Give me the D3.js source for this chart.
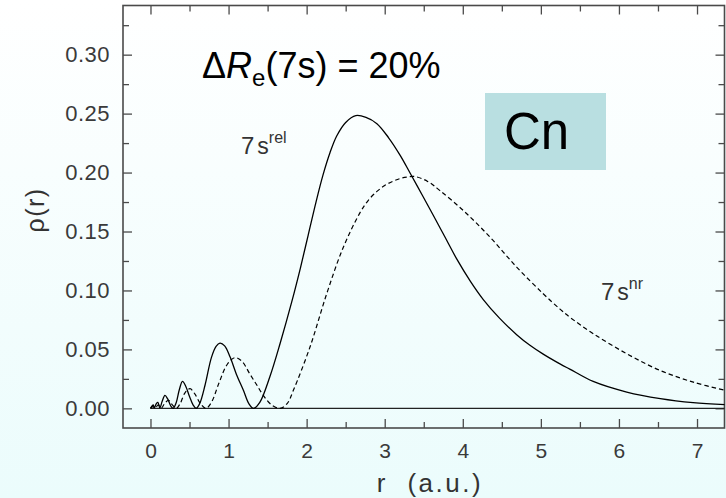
<!DOCTYPE html>
<html>
<head>
<meta charset="utf-8">
<script src="https://cdn.jsdelivr.net/npm/d3@7"></script>
<style>
  html, body { margin: 0; padding: 0; }
  body { width: 726px; height: 498px; overflow: hidden; }
  svg { display: block; }
</style>
</head>
<body>
<svg id="chart" width="726" height="498"></svg>
<script>
// ---- data ----
const relR = [0, 0.02, 0.035, 0.05, 0.075, 0.095, 0.12, 0.15, 0.185, 0.22, 0.26, 0.29, 0.33, 0.37, 0.41, 0.45, 0.5, 0.545, 0.585, 0.63, 0.7, 0.78, 0.84, 0.89, 0.95, 1.02, 1.1, 1.19, 1.26, 1.32, 1.4, 1.53, 1.66, 1.81, 1.92, 2.02, 2.12, 2.21, 2.3, 2.385, 2.5, 2.63, 2.76, 2.9, 3.05, 3.2, 3.33, 3.48, 3.62, 3.77, 3.92, 4.1, 4.26, 4.47, 4.69, 4.86, 5.03, 5.25, 5.37, 5.67, 6.1, 6.53, 6.95, 7.36];
const relRho = [0, 0.002, 0.003, 0.0005, 0.004, 0.005, 0.0005, 0.006, 0.011, 0.008, 0.002, 0, 0.005, 0.016, 0.0229, 0.019, 0.01, 0.003, 0, 0.004, 0.02, 0.043, 0.0525, 0.0553, 0.053, 0.0435, 0.029, 0.0153, 0.004, 0, 0.005, 0.027, 0.055, 0.0905, 0.119, 0.147, 0.175, 0.198, 0.217, 0.231, 0.2425, 0.2483, 0.2468, 0.2415, 0.2295, 0.2144, 0.199, 0.181, 0.164, 0.1455, 0.127, 0.1075, 0.0925, 0.0765, 0.0625, 0.0535, 0.046, 0.0375, 0.0333, 0.0228, 0.0138, 0.0082, 0.0048, 0.0031];

const nrR = [0, 0.03, 0.06, 0.1, 0.14, 0.18, 0.23, 0.28, 0.33, 0.38, 0.44, 0.506, 0.57, 0.64, 0.71, 0.78, 0.88, 0.98, 1.08, 1.17, 1.274, 1.36, 1.445, 1.55, 1.66, 1.75, 1.83, 2.043, 2.257, 2.47, 2.684, 2.79, 2.897, 3.0, 3.1, 3.2, 3.29, 3.388, 3.55, 3.708, 4.007, 4.349, 4.69, 5.03, 5.245, 5.373, 5.672, 6.1, 6.526, 6.953, 7.36];
const nrRho = [0, 0.0015, 0.0002, 0.003, 0.0003, 0.004, 0.0068, 0.003, 0, 0.004, 0.013, 0.0167, 0.012, 0.004, 0, 0.005, 0.022, 0.037, 0.043, 0.04, 0.029, 0.02, 0.011, 0.003, 0, 0.004, 0.0153, 0.052, 0.0972, 0.1367, 0.166, 0.1765, 0.1838, 0.1890, 0.1925, 0.1950, 0.1962, 0.1966, 0.1925, 0.1847, 0.1678, 0.1452, 0.1198, 0.0972, 0.0842, 0.0772, 0.0633, 0.0463, 0.0322, 0.0222, 0.0153];

const xMajorTicks = [0, 1, 2, 3, 4, 5, 6, 7];
const xMinorTicks = [0.5, 1.5, 2.5, 3.5, 4.5, 5.5, 6.5];
const yMajorTicks = [0, 0.05, 0.10, 0.15, 0.20, 0.25, 0.30];
const yMinorTicks = [0.025, 0.075, 0.125, 0.175, 0.225, 0.275, 0.325];
const yTickLabels = ["0.00", "0.05", "0.10", "0.15", "0.20", "0.25", "0.30"];

const titleText = "(7s) = 20%";
const elementLabel = "Cn";
const xTitle = "r  (a.u.)";
const yTitle = "\u03C1(r)";

// ---- layout ----
const W = 726, H = 498;
const plot = { left: 123, top: 5.5, right: 724.5, bottom: 428 };

const svg = d3.select("#chart");

// background gradient
const defs = svg.append("defs");
const grad = defs.append("linearGradient").attr("id", "bg")
  .attr("x1", 0).attr("y1", 0).attr("x2", 0).attr("y2", 1);
grad.append("stop").attr("offset", "0%").attr("stop-color", "#ffffff");
grad.append("stop").attr("offset", "100%").attr("stop-color", "#ebfcfc");
svg.append("rect").attr("width", W).attr("height", H).attr("fill", "url(#bg)");

const x = d3.scaleLinear().domain([-0.352, 7.352]).range([plot.left, plot.right]);
const y = d3.scaleLinear().domain([-1 / 60, 0.3417]).range([plot.bottom, plot.top]);

const axisColor = "#4a4a4a";
const labelFont = "'Liberation Sans', Arial, sans-serif";

function styleAxis(g) {
  g.select(".domain").remove();
  g.selectAll(".tick line").attr("stroke", axisColor).attr("stroke-width", 1.3);
  g.selectAll(".tick text").attr("fill", "#3a3a3a").attr("font-family", labelFont);
}

// left axis (major with labels)
svg.append("g").attr("transform", `translate(${plot.left},0)`)
  .call(d3.axisLeft(y).tickValues(yMajorTicks).tickSize(-9).tickPadding(13)
    .tickFormat((d, i) => yTickLabels[i]))
  .call(styleAxis)
  .call(g => g.selectAll(".tick text").attr("font-size", 22).attr("letter-spacing", 0.5));
svg.append("g").attr("transform", `translate(${plot.left},0)`)
  .call(d3.axisLeft(y).tickValues(yMinorTicks).tickSize(-6).tickFormat(""))
  .call(styleAxis);
// right axis
svg.append("g").attr("transform", `translate(${plot.right},0)`)
  .call(d3.axisRight(y).tickValues(yMajorTicks).tickSize(-9).tickFormat(""))
  .call(styleAxis);
svg.append("g").attr("transform", `translate(${plot.right},0)`)
  .call(d3.axisRight(y).tickValues(yMinorTicks).tickSize(-6).tickFormat(""))
  .call(styleAxis);
// bottom axis
svg.append("g").attr("transform", `translate(0,${plot.bottom})`)
  .call(d3.axisBottom(x).tickValues(xMajorTicks).tickSize(-9).tickPadding(15)
    .tickFormat(d3.format("d")))
  .call(styleAxis)
  .call(g => g.selectAll(".tick text").attr("font-size", 21));
svg.append("g").attr("transform", `translate(0,${plot.bottom})`)
  .call(d3.axisBottom(x).tickValues(xMinorTicks).tickSize(-6).tickFormat(""))
  .call(styleAxis);
// top axis
svg.append("g").attr("transform", `translate(0,${plot.top})`)
  .call(d3.axisTop(x).tickValues(xMajorTicks).tickSize(-9).tickFormat(""))
  .call(styleAxis);
svg.append("g").attr("transform", `translate(0,${plot.top})`)
  .call(d3.axisTop(x).tickValues(xMinorTicks).tickSize(-6).tickFormat(""))
  .call(styleAxis);

// frame
svg.append("rect")
  .attr("x", plot.left).attr("y", plot.top)
  .attr("width", plot.right - plot.left).attr("height", plot.bottom - plot.top)
  .attr("fill", "none").attr("stroke", axisColor).attr("stroke-width", 1.6);

// zero line
svg.append("line")
  .attr("x1", x(0)).attr("x2", plot.right)
  .attr("y1", y(0)).attr("y2", y(0))
  .attr("stroke", "#222").attr("stroke-width", 1.2);

// curves
const clip = defs.append("clipPath").attr("id", "clip");
clip.append("rect").attr("x", plot.left).attr("y", plot.top)
  .attr("width", plot.right - plot.left).attr("height", plot.bottom - plot.top);

const line = d3.line().x(d => x(d[0])).y(d => y(Math.max(0, d[1])))
  .curve(d3.curveCatmullRom.alpha(0.5));
const relData = relR.map((r, i) => [r, relRho[i]]);
const nrData = nrR.map((r, i) => [r, nrRho[i]]);

const curves = svg.append("g").attr("clip-path", "url(#clip)");
curves.append("path").datum(relData).attr("d", line)
  .attr("fill", "none").attr("stroke", "#000").attr("stroke-width", 1.3);
curves.append("path").datum(nrData).attr("d", line)
  .attr("fill", "none").attr("stroke", "#000").attr("stroke-width", 1.2)
  .attr("stroke-dasharray", "4.5,3");

// axis titles
svg.append("text")
  .attr("x", 430).attr("y", 492)
  .attr("text-anchor", "middle")
  .attr("font-family", labelFont).attr("font-size", 26)
  .attr("letter-spacing", 2.5)
  .attr("fill", "#333").attr("xml:space", "preserve")
  .text(xTitle);
svg.append("text")
  .attr("transform", "translate(44,210) rotate(-90)")
  .attr("text-anchor", "middle")
  .attr("font-family", labelFont).attr("font-size", 25)
  .attr("letter-spacing", 1.5)
  .attr("fill", "#333")
  .text(yTitle);

// title ΔRe(7s) = 20%
const title = svg.append("text")
  .attr("x", 202).attr("y", 78)
  .attr("font-family", labelFont).attr("font-size", 36).attr("fill", "#000");
title.append("tspan").text("\u0394");
title.append("tspan").attr("font-style", "italic").text("R");
title.append("tspan").attr("font-size", 24).attr("dy", 8).text("e");
title.append("tspan").attr("dy", -8).text(titleText);

// Cn box
svg.append("rect")
  .attr("x", 485).attr("y", 93).attr("width", 121).attr("height", 77)
  .attr("fill", "#b9dfe1");
svg.append("text")
  .attr("x", 504).attr("y", 149)
  .attr("font-family", labelFont).attr("font-size", 51).attr("fill", "#000")
  .text(elementLabel);

// curve labels
function orbitalLabel(x0, y0, sup) {
  const t = svg.append("text").attr("x", x0).attr("y", y0)
    .attr("font-family", labelFont).attr("font-size", 24).attr("fill", "#333");
  t.append("tspan").text("7");
  t.append("tspan").attr("dx", 3).attr("font-size", 23).text("s");
  t.append("tspan").attr("dy", -11).attr("font-size", 16).text(sup);
}
orbitalLabel(241, 154, "rel");
orbitalLabel(601, 300, "nr");
</script>
</body>
</html>
